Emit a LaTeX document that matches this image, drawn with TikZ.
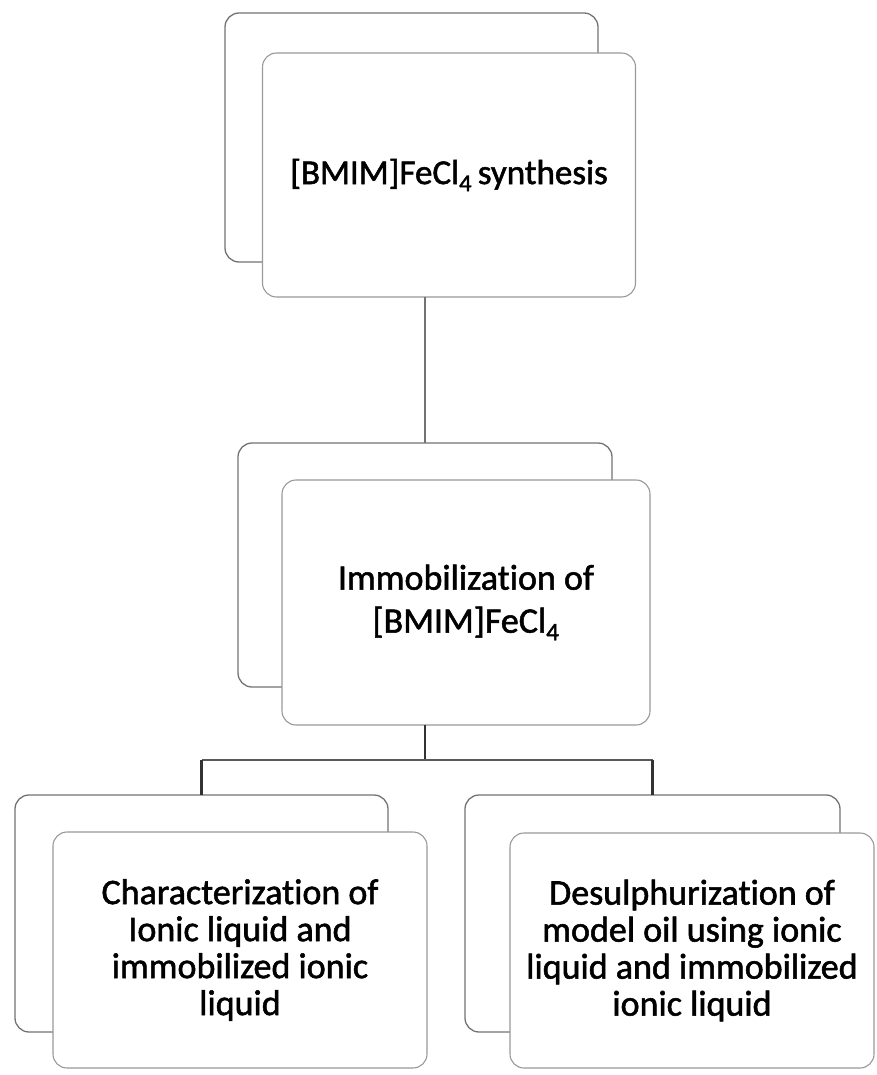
\documentclass[tikz,border=0pt]{standalone}
\usepackage{fontspec}
\setmainfont{Carlito}[Ligatures=NoCommon]
\newfontfamily\boxfont{Carlito}[Ligatures=NoCommon,FakeBold=1.5]
\begin{document}
\begin{tikzpicture}[x=1pt,y=-1pt,
  backbox/.style={draw=black!55,line width=1.3pt,rounded corners=14pt,inner sep=0pt,outer sep=0pt,fill=white},
  frontbox/.style={draw=black!40,line width=1.1pt,rounded corners=14pt,inner sep=0pt,outer sep=0pt,fill=white,align=center,text=black},
  uplink/.style={draw=black!55,line width=1.6pt},
  downlink/.style={draw=black!80,line width=2.6pt},
  bus/.style={draw=black!65,line width=2.2pt}]
\useasboundingbox (0,0) rectangle (876,1075);
% back boxes
\node[backbox,minimum width=373pt,minimum height=249pt] (topback) at (411.5,137.5) {};
\node[backbox,minimum width=374pt,minimum height=244pt] (midback) at (425,565) {};
\node[backbox,minimum width=373pt,minimum height=237pt] (lback) at (201.5,913.5) {};
\node[backbox,minimum width=375pt,minimum height=237pt] (rback) at (652.5,913.5) {};
% front boxes
\node[frontbox,minimum width=373pt,minimum height=244pt,font=\boxfont\fontsize{35}{43}\selectfont] (topfront) at (449,175) {{[BMIM]}FeCl\textsubscript{4}\,synthesis};
\node[frontbox,minimum width=368pt,minimum height=245pt,font=\boxfont\fontsize{36}{43}\selectfont] (midfront) at (466,602.5) {Immobilization of\\{}{[BMIM]}FeCl\textsubscript{4}};
\node[frontbox,minimum width=374pt,minimum height=236pt,font=\boxfont\fontsize{36}{37}\selectfont] (lfront) at (240,950) {Characterization of\\Ionic liquid and\\immobilized ionic\\liquid};
\node[frontbox,minimum width=364pt,minimum height=235pt,font=\boxfont\fontsize{36}{37}\selectfont] (rfront) at (692,950.5) {Desulphurization of\\model oil using ionic\\liquid and immobilized\\ionic liquid};
% connectors
\coordinate (busy) at (0,760);
\draw[uplink] (topfront.south -| midback.north) -- (midback.north);
\draw[downlink] (midfront.south -| midback.center) -- (midback.center |- busy);
\draw[bus] (lback.north |- busy) -- (rback.north |- busy);
\draw[downlink] (lback.north |- busy) -- (lback.north);
\draw[downlink] (rback.north |- busy) -- (rback.north);
\end{tikzpicture}
\end{document}
